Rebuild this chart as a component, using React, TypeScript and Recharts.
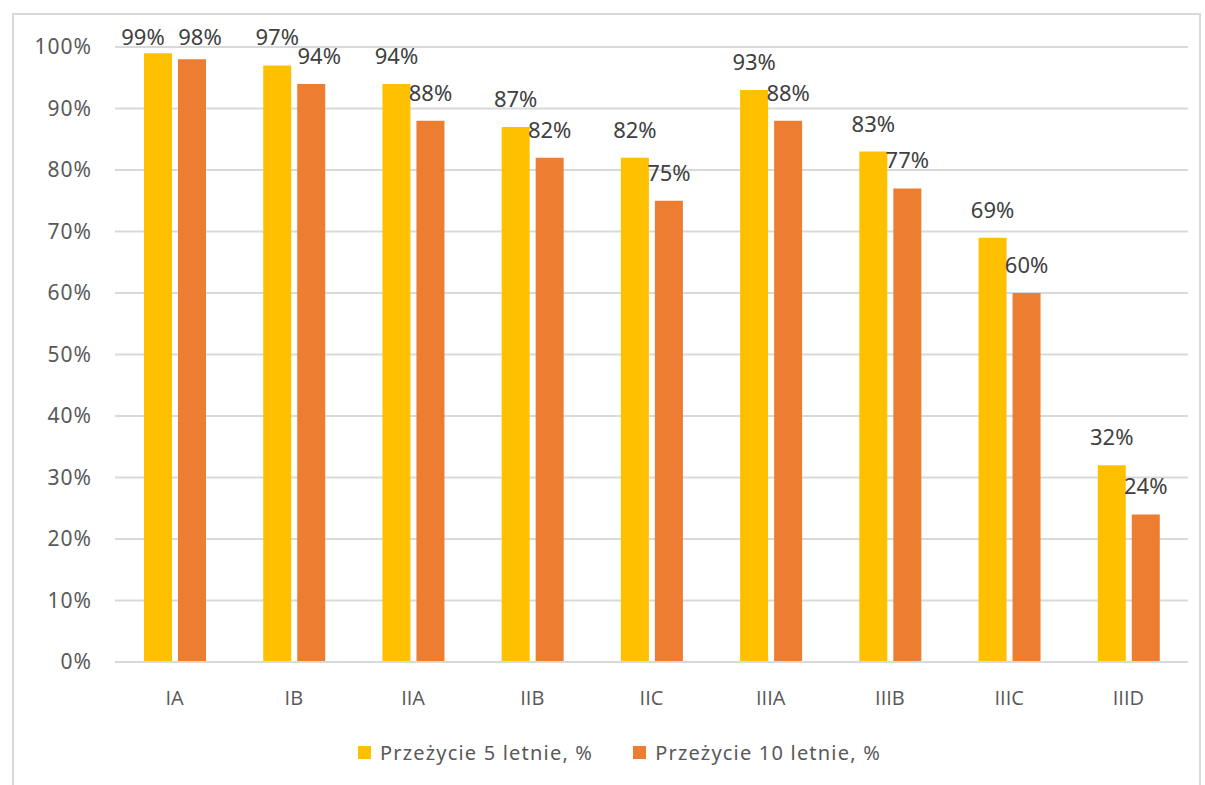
import { BarChart, Bar, XAxis, YAxis, CartesianGrid, Legend, LabelList } from 'recharts';

const categories = ['IA', 'IB', 'IIA', 'IIB', 'IIC', 'IIIA', 'IIIB', 'IIIC', 'IIID'];
const survival5 = [99, 97, 94, 87, 82, 93, 83, 69, 32];
const survival10 = [98, 94, 88, 82, 75, 88, 77, 60, 24];
const yTicks = [0, 10, 20, 30, 40, 50, 60, 70, 80, 90, 100];
const seriesNames = ['Przeżycie 5 letnie, %', 'Przeżycie 10 letnie, %'];

const data = categories.map((name, i) => ({
  name,
  s5: survival5[i],
  s10: survival10[i],
}));

const FONT = '"Noto Sans", "Open Sans", sans-serif';
const TICK_FONT = '"Open Sans", "Liberation Sans", sans-serif';

// labels that were dragged sideways in the original so they don't collide
const nudge5: Record<number, number> = { 0: -15 };
const nudge10: Record<number, number> = { 0: 8, 1: 8 };

// Excel keeps labels inside the chart, so the top ones get pushed down
function makeLabel(nudge: Record<number, number>) {
  return function TopLabel(props: any) {
    const { x, y, width, value, index } = props;
    return (
      <text
        x={x + width / 2 + (nudge[index] || 0)}
        y={Math.max(y - 20, 45)}
        textAnchor="middle"
        fill="#404040"
        fontSize={22}
        fontFamily={FONT}
      >
        {value}%
      </text>
    );
  };
}

function XTick(props: any) {
  const { x, y, payload } = props;
  return (
    <text x={x} y={y + 41} textAnchor="middle" fill="#595959" fontSize={20} fontFamily={TICK_FONT}>
      {payload.value}
    </text>
  );
}

function LegendBox(props: any) {
  const items = [...(props.payload || [])].sort(
    (a: any, b: any) => seriesNames.indexOf(a.value) - seriesNames.indexOf(b.value)
  );
  return (
    <div
      style={{
        display: 'flex',
        alignItems: 'center',
        fontFamily: FONT,
        fontSize: 20,
        letterSpacing: 1.2,
        color: '#595959',
      }}
    >
      {items.map((it: any) => (
        <div key={it.value} style={{ display: 'flex', alignItems: 'center', marginRight: 40 }}>
          <span style={{ width: 13, height: 13, background: it.color, display: 'inline-block', marginRight: 9 }} />
          <span>{it.value}</span>
        </div>
      ))}
    </div>
  );
}

export default function App() {
  return (
    <div style={{ position: 'absolute', left: 0, top: 0, width: 1205, height: 785, background: '#fff', fontFamily: FONT }}>
      <div
        style={{
          position: 'absolute',
          left: 12,
          top: 13,
          width: 1189,
          height: 800,
          border: '2px solid #d9d9d9',
          boxSizing: 'border-box',
        }}
      />
      <div style={{ position: 'absolute', left: 0, top: 0 }}>
        <BarChart
          width={1205}
          height={785}
          data={data}
          margin={{ top: 47, right: 17, bottom: 93, left: 0 }}
          barSize={28}
          barGap={6}
          style={{ fontFamily: FONT }}
        >
          <CartesianGrid vertical={false} stroke="#d9d9d9" strokeWidth={2} />
          <XAxis
            dataKey="name"
            height={30}
            axisLine={{ stroke: '#d9d9d9', strokeWidth: 2 }}
            tickLine={false}
            tickSize={0}
            tick={XTick}
          />
          <YAxis
            width={115}
            domain={[0, 100]}
            ticks={yTicks}
            axisLine={false}
            tickLine={false}
            tickSize={0}
            tickMargin={23}
            tickFormatter={(v: number) => `${v}%`}
            tick={{ fill: '#595959', fontSize: 21, fontFamily: FONT, letterSpacing: 1 }}
          />
          <Legend
            layout="horizontal"
            verticalAlign="middle"
            align="center"
            content={LegendBox}
            wrapperStyle={{ top: 739, left: 358, width: 620, height: 28 }}
          />
          <Bar dataKey="s5" name={seriesNames[0]} fill="#FFC000" isAnimationActive={false}>
            <LabelList dataKey="s5" content={makeLabel(nudge5)} />
          </Bar>
          <Bar dataKey="s10" name={seriesNames[1]} fill="#ED7D31" isAnimationActive={false}>
            <LabelList dataKey="s10" content={makeLabel(nudge10)} />
          </Bar>
        </BarChart>
      </div>
    </div>
  );
}
